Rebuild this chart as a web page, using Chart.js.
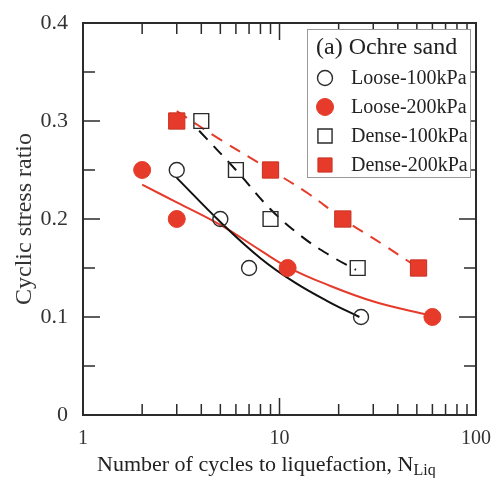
<!DOCTYPE html>
<html>
<head>
<meta charset="utf-8">
<script src="https://cdn.jsdelivr.net/npm/chart.js@4.4.1/dist/chart.umd.min.js"></script>
<style>
    html, body { margin: 0; padding: 0; background: #fff; }
</style>
</head>
<body>
<canvas id="chart" width="491" height="478"></canvas>
<script>
// measured points (number of cycles, cyclic stress ratio)
const loose100N = [3, 5, 7, 26];
const loose100Csr = [0.25, 0.2, 0.15, 0.1];
const loose200N = [2, 3, 11, 60];
const loose200Csr = [0.25, 0.2, 0.15, 0.1];
const dense100N = [4, 6, 9, 25];
const dense100Csr = [0.3, 0.25, 0.2, 0.15];
const dense200N = [3, 9, 21, 51];
const dense200Csr = [0.3, 0.25, 0.2, 0.15];

// fitted curves
const fitLoose100N = [3, 5, 8, 12, 18, 25.5];
const fitLoose100Csr = [0.242, 0.197, 0.16, 0.135, 0.115, 0.1];
const fitLoose200N = [2, 3, 5, 8, 11, 17, 31, 58];
const fitLoose200Csr = [0.235, 0.217, 0.194, 0.168, 0.151, 0.134, 0.115, 0.102];
const fitDense100N = [3.9, 6, 9, 13, 18, 24.5];
const fitDense100Csr = [0.29, 0.25, 0.21, 0.182, 0.163, 0.148];
const fitDense200N = [3, 5, 9, 14, 21, 33, 51];
const fitDense200Csr = [0.31, 0.281, 0.25, 0.226, 0.2, 0.175, 0.15];

// axis ticks
const xMajor = [1, 10, 100];
const xMinor = [2, 3, 4, 5, 6, 7, 8, 9, 20, 30, 40, 50, 60, 70, 80, 90];
const yMajor = [0, 0.1, 0.2, 0.3, 0.4];
const yMinor = [0.05, 0.15, 0.25, 0.35];

const legendTitle = '(a) Ochre sand';
const xTitle = 'Number of cycles to liquefaction, N';
const xTitleSub = 'Liq';
const yTitle = 'Cyclic stress ratio';

const RED = '#e63b2a';
const INK = '#2b2b2b';
const FONT = "'Liberation Serif', 'Times New Roman', serif";

const toPts = (xs, ys) => xs.map((v, i) => ({ x: v, y: ys[i] }));

const markerSets = [
    { label: 'Loose-100kPa', data: toPts(loose100N, loose100Csr), pointStyle: 'circle', pointRadius: 7.5,
      backgroundColor: 'rgba(0,0,0,0)', borderColor: INK, borderWidth: 1.4 },
    { label: 'Loose-200kPa', data: toPts(loose200N, loose200Csr), pointStyle: 'circle', pointRadius: 8.5,
      backgroundColor: RED, borderColor: RED, borderWidth: 1 },
    { label: 'Dense-100kPa', data: toPts(dense100N, dense100Csr), pointStyle: 'rect', pointRadius: 10.5,
      backgroundColor: 'rgba(0,0,0,0)', borderColor: INK, borderWidth: 1.4 },
    { label: 'Dense-200kPa', data: toPts(dense200N, dense200Csr), pointStyle: 'rect', pointRadius: 11.5,
      backgroundColor: RED, borderColor: '#c93020', borderWidth: 1 }
];
markerSets.forEach(d => { d.order = 1; d.showLine = false; d.pointHoverRadius = d.pointRadius; });

const fitSets = [
    { data: toPts(fitLoose100N, fitLoose100Csr), borderColor: '#111', borderDash: [] },
    { data: toPts(fitLoose200N, fitLoose200Csr), borderColor: RED, borderDash: [] },
    { data: toPts(fitDense100N, fitDense100Csr), borderColor: '#111', borderDash: [12, 9] },
    { data: toPts(fitDense200N, fitDense200Csr), borderColor: RED, borderDash: [12, 9] }
].map(d => Object.assign(d, {
    label: '', showLine: true, pointRadius: 0, borderWidth: 2,
    tension: 0.4, fill: false, order: 2
}));

//frame and inward ticks on all four sides
const frameTicks = {
    id: 'frameTicks',
    beforeDatasetsDraw(chart) {
        const { ctx, chartArea: a, scales: { x, y } } = chart;
        ctx.save();
        ctx.strokeStyle = INK;
        ctx.lineWidth = 1.5;
        ctx.beginPath();
        const xt = (v, len) => {
            const px = x.getPixelForValue(v);
            ctx.moveTo(px, a.bottom); ctx.lineTo(px, a.bottom - len);
            ctx.moveTo(px, a.top); ctx.lineTo(px, a.top + len);
        };
        const yt = (v, len) => {
            const py = y.getPixelForValue(v);
            ctx.moveTo(a.left, py); ctx.lineTo(a.left + len, py);
            ctx.moveTo(a.right, py); ctx.lineTo(a.right - len, py);
        };
        xMinor.forEach(v => xt(v, 11));
        xMajor.forEach(v => xt(v, 17));
        yMinor.forEach(v => yt(v, 12));
        yMajor.forEach(v => yt(v, 17));
        ctx.stroke();
        ctx.lineWidth = 2;
        ctx.strokeRect(a.left, a.top, a.right - a.left, a.bottom - a.top);
        ctx.restore();
    }
};

//boxed legend and x title with subscript
const boxLegend = {
    id: 'boxLegend',
    afterDraw(chart) {
        const ctx = chart.ctx;
        ctx.save();
        ctx.fillStyle = '#fff';
        ctx.fillRect(307, 29, 163, 148);
        ctx.strokeStyle = '#999';
        ctx.lineWidth = 1;
        ctx.strokeRect(307.5, 29.5, 163, 148);

        ctx.fillStyle = '#222';
        ctx.textBaseline = 'middle';
        ctx.font = '24px ' + FONT;
        ctx.fillText(legendTitle, 316, 48);

        ctx.font = '20px ' + FONT;
        markerSets.forEach((d, i) => {
            const yy = 78 + i * 29;
            ctx.fillStyle = d.backgroundColor;
            ctx.strokeStyle = d.borderColor;
            ctx.lineWidth = d.borderWidth;
            const r = d.pointStyle === 'rect' ? 10 : 7.5 + (i === 1 ? 1 : 0);
            Chart.helpers.drawPoint(ctx, { pointStyle: d.pointStyle, radius: r, rotation: 0, borderWidth: d.borderWidth }, 325, yy);
            ctx.fillStyle = '#222';
            ctx.fillText(d.label, 351, yy + 1);
        });

        ctx.font = '22px ' + FONT;
        ctx.textBaseline = 'alphabetic';
        const w1 = ctx.measureText(xTitle).width;
        ctx.font = '16px ' + FONT;
        const w2 = ctx.measureText(xTitleSub).width;
        const x0 = 97;
        ctx.font = '22px ' + FONT;
        ctx.fillText(xTitle, x0, 471);
        ctx.font = '16px ' + FONT;
        ctx.fillText(xTitleSub, x0 + w1, 475);
        ctx.restore();
    }
};

new Chart(document.getElementById('chart'), {
    type: 'scatter',
    data: { datasets: [...fitSets, ...markerSets] },
    options: {
        responsive: false,
        animation: false,
        layout: { padding: { top: 23, right: 15, left: 0, bottom: 0 } },
        plugins: {
            legend: { display: false },
            tooltip: { enabled: false }
        },
        scales: {
            x: {
                type: 'logarithmic',
                min: 1,
                max: 100,
                grid: { display: false, drawTicks: false },
                border: { display: false },
                ticks: {
                    autoSkip: false,
                    maxRotation: 0,
                    padding: 12,
                    color: '#333',
                    font: { family: FONT, size: 20 },
                    callback: v => xMajor.includes(v) ? String(v) : ''
                },
                afterFit: s => { s.height = 63; s.paddingRight = 0; s.paddingLeft = 0; }
            },
            y: {
                min: 0,
                max: 0.4,
                grid: { display: false, drawTicks: false },
                border: { display: false },
                ticks: {
                    stepSize: 0.1,
                    padding: 15,
                    color: '#333',
                    font: { family: FONT, size: 22 },
                    callback: v => v === 0 ? '0' : v.toFixed(1)
                },
                title: {
                    display: true,
                    text: yTitle,
                    color: '#333',
                    padding: { top: 10, bottom: 0 },
                    font: { family: FONT, size: 24 }
                },
                afterFit: s => { s.width = 83; s.paddingTop = 0; s.paddingBottom = 0; }
            }
        }
    },
    plugins: [frameTicks, boxLegend]
});
</script>
</body>
</html>
